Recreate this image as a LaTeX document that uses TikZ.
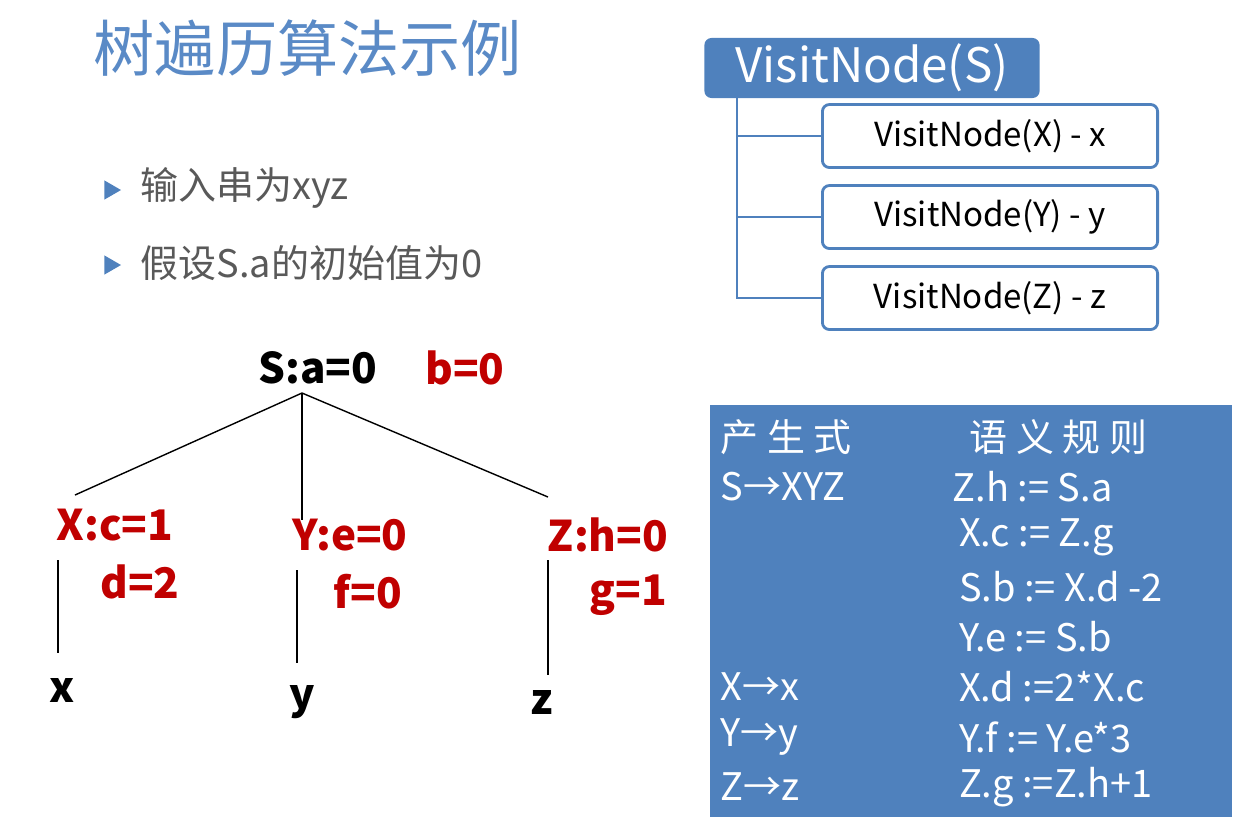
\documentclass[tikz,border=0pt]{standalone}
\usepackage{fontspec}
\setmainfont{Noto Sans CJK SC}
\usetikzlibrary{positioning}
\definecolor{hdblue}{HTML}{4F81BD}
\definecolor{ttblue}{HTML}{5A8AC6}
\definecolor{attred}{HTML}{C00000}
\definecolor{txgray}{HTML}{595959}
\begin{document}
\begin{tikzpicture}[x=0.01cm,y=-0.01cm,
  every node/.style={inner sep=0pt},
  bul/.style={fill=hdblue,regular polygon,regular polygon sides=3,shape border rotate=-90,minimum size=0.22cm},
  item/.style={anchor=west,text=txgray,font=\fontsize{10.8}{13}\selectfont},
  child/.style={draw=hdblue,thick,rounded corners=2pt,fill=white,minimum width=3.35cm,minimum height=0.63cm,font=\fontsize{9.4}{11}\selectfont},
  att/.style={text=attred,font=\bfseries\fontsize{12}{14}\selectfont},
  lf/.style={font=\bfseries\fontsize{12}{14}\selectfont},
  rule/.style={anchor=west,text=white,font=\fontsize{10.8}{13}\selectfont}]
\usetikzlibrary{shapes.geometric}
\useasboundingbox (0,0) rectangle (1236,817);
% title and bullets
\node[anchor=west,text=ttblue,font=\fontsize{17.4}{20}\selectfont] (title) at (93,48) {树遍历算法示例};
\node[bul] (b1) at (110,190) {};
\node[item] (t1) at (140,188) {输入串为xyz};
\node[bul] (b2) at (110,265) {};
\node[item] (t2) at (140,263) {假设S.a的初始值为0};
% call tree
\node[fill=hdblue,rounded corners=2pt,minimum width=3.35cm,minimum height=0.6cm,text=white,font=\fontsize{13.5}{16}\selectfont] (vs) at (872,68) {VisitNode(S)};
\node[child] (vx) at (990,136) {VisitNode(X) - x};
\node[child] (vy) at (990,217) {VisitNode(Y) - y};
\node[child] (vz) at (990,298) {VisitNode(Z) - z};
\coordinate (top) at (737,98);
\draw[hdblue,thick] (top) |- (vz.west);
\draw[hdblue,thick] (top |- vx.west) -- (vx.west);
\draw[hdblue,thick] (top |- vy.west) -- (vy.west);
% annotated parse tree
\node[lf] (s) at (318,368) {S:a=0};
\node[att] (sb) at (465,368) {b=0};
\node[att] (xn) at (115,525) {X:c=1};
\node[att] (xd) at (140,582) {d=2};
\node[att] (yn) at (350,535) {Y:e=0};
\node[att] (yf) at (368,592) {f=0};
\node[att] (zn) at (608,535) {Z:h=0};
\node[att] (zg) at (628,595) {g=1};
\node[lf] (x) at (62,690) {x};
\node[lf] (y) at (302,702) {y};
\node[lf] (z) at (542,702) {z};
\coordinate (sr) at (302,393);
\draw (sr) -- (75,495);
\draw (sr) -- (302,520);
\draw (sr) -- (548,497);
\draw (58,560) -- (58,653);
\draw (297,570) -- (297,663);
\draw (548,560) -- (548,675);
% rules table
\fill[hdblue] (710,405) rectangle (1232,817);
\foreach \l/\r [count=\i from 0] in {产\ 生\ 式/\ \ 语\ 义\ 规\ 则, S→XYZ/Z.h := S.a, /\,X.c := Z.g, /\,S.b := X.d -2, /\,Y.e := S.b, X→x/\,X.d :=2*X.c, Y→y/\,Y.f := Y.e*3, Z→z/\,Z.g :=Z.h+1}{
  \node[rule] (l\i) at (720,437+50*\i) {\l};
  \node[rule] (r\i) at (952,437+50*\i) {\r};
}
\end{tikzpicture}
\end{document}
